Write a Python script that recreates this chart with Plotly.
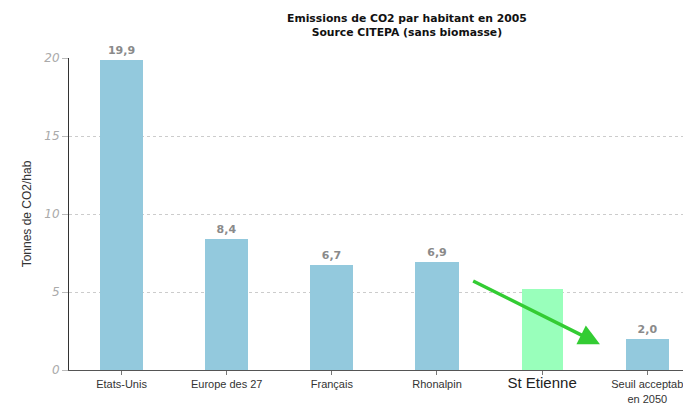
import plotly.graph_objects as go

categories = ["Etats-Unis", "Europe des 27", "Français", "Rhonalpin", "St Etienne", "Seuil acceptab<br>en 2050"]
values = [19.9, 8.4, 6.7, 6.9, None, 2.0]
st_etienne_value = 5.2
arrow_start = (3.33, 5.75)
arrow_end = (4.55, 1.65)
y_ticks = [0, 5, 10, 15, 20]

BLUE = "#93C9DD"
GREEN = "#99FFBB"

idx = list(range(len(categories)))
blue_x = [i for i, v in zip(idx, values) if v is not None]
blue_y = [v for v in values if v is not None]
blue_text = [f"{v:.1f}".replace(".", ",") for v in blue_y]

fig = go.Figure()
fig.add_trace(go.Bar(
    x=blue_x, y=blue_y, width=0.41, marker=dict(color=BLUE, line=dict(width=0)),
    text=blue_text, textposition="outside", cliponaxis=False,
    textfont=dict(family="DejaVu Sans", size=11, color="#8a8a8a", weight="bold"),
    hoverinfo="skip",
))
fig.add_trace(go.Bar(
    x=[4], y=[st_etienne_value], width=0.39, marker=dict(color=GREEN, line=dict(width=0)),
    hoverinfo="skip",
))

ticktext = []
for c in categories:
    if c == "St Etienne":
        ticktext.append('<span style="font-size:15px;color:#222">' + c + "</span>")
    else:
        ticktext.append(c)

fig.update_layout(
    width=683, height=406,
    margin=dict(l=69, r=0, t=58, b=36),
    plot_bgcolor="white", paper_bgcolor="white",
    showlegend=False, bargap=0,
    font=dict(family="Liberation Sans, Arial", color="#333"),
)
fig.update_xaxes(
    range=[-0.5, 5.34], tickmode="array", tickvals=idx, ticktext=ticktext,
    tickson="boundaries", ticks="outside", ticklen=4, tickcolor="#777",
    showline=True, linecolor="#555", linewidth=1, showgrid=False,
    ticklabeloverflow="allow",
    tickfont=dict(family="Liberation Sans, Arial", size=11, color="#333"),
)
fig.update_yaxes(
    range=[0, 20], tickvals=y_ticks, ticks="outside", ticklen=6, tickcolor="#bbb",
    showline=True, linecolor="#333", linewidth=1,
    showgrid=True, gridcolor="#cccccc", griddash="dot", gridwidth=1,
    zeroline=False,
    tickfont=dict(family="DejaVu Sans", size=12, color="#aaaaaa", style="italic"),
    title=dict(text="Tonnes de CO2/hab", standoff=10,
               font=dict(family="Liberation Sans, Arial", size=12, color="#333")),
)

fig.add_annotation(
    x=0.551, y=1.105, xref="paper", yref="paper", xanchor="center", yanchor="middle",
    text="<b>Emissions de CO2 par habitant en 2005<br>Source CITEPA (sans biomasse)</b>",
    showarrow=False, font=dict(family="DejaVu Sans", size=10.8, color="#111"),
)

fig.add_annotation(
    x=arrow_end[0], y=arrow_end[1], ax=arrow_start[0], ay=arrow_start[1],
    xref="x", yref="y", axref="x", ayref="y",
    showarrow=True, arrowhead=2, arrowsize=1.2, arrowwidth=3.5, arrowcolor="#33CC33",
    text="",
)

fig.write_html("out.html")
